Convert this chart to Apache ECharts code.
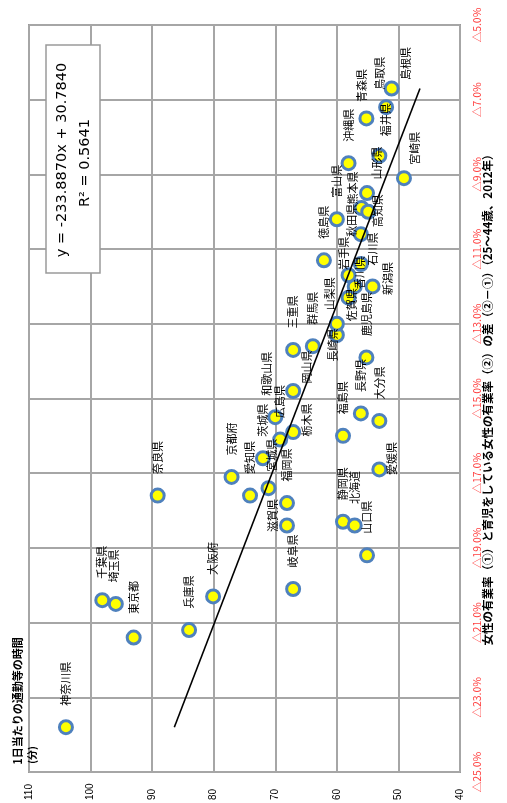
<!DOCTYPE html>
<html><head><meta charset="utf-8">
<script src="https://cdn.jsdelivr.net/npm/echarts@6/dist/echarts.min.js"></script>
<style>html,body{margin:0;padding:0;background:#fff}#c{width:507px;height:803px}</style>
</head><body><div id="c"></div>
<script>
// ---- data ----
const prefectures = ['神奈川県','千葉県','埼玉県','東京都','兵庫県','大阪府','奈良県','京都府','愛知県','宮城県','茨城県','広島県','栃木県','和歌山県','岡山県','福岡県','滋賀県','岐阜県','福島県','長野県','大分県','愛媛県','静岡県','北海道','山口県','鹿児島県','群馬県','長崎県','山梨県','佐賀県','香川県','新潟県','岩手県','石川県','徳島県','秋田県','富山県','熊本県','高知県','山形県','宮崎県','沖縄県','福井県','青森県','鳥取県','島根県','三重県'];
const commuteMinutes = [104.0, 98.1, 95.9, 93.0, 84.0, 80.1, 89.1, 77.1, 74.1, 71.1, 72.0, 69.2, 67.1, 70.0, 67.1, 68.1, 68.1, 67.1, 59.0, 56.1, 53.1, 53.1, 59.0, 57.1, 55.1, 55.2, 63.9, 60.0, 60.0, 58.1, 57.1, 54.2, 58.1, 56.1, 62.1, 56.1, 60.0, 56.0, 54.9, 55.1, 49.1, 58.1, 53.1, 55.2, 52.0, 51.1, 67.1];
const rateGap = [-23.8, -20.4, -20.5, -21.4, -21.2, -20.3, -17.6, -17.1, -17.6, -17.4, -16.6, -16.1, -15.9, -15.5, -14.8, -17.8, -18.4, -20.1, -16.0, -15.4, -15.6, -16.9, -18.3, -18.4, -19.2, -13.9, -13.6, -13.3, -13.0, -12.3, -12.0, -12.0, -11.7, -11.4, -11.3, -10.6, -10.2, -9.9, -10.0, -9.5, -9.1, -8.7, -8.5, -7.5, -7.2, -6.7, -13.7];
const trendCommute = [86.4, 46.5];
const trendGap = [-23.8, -6.7];
const equationText = 'y = -233.8870x + 30.7840';
const r2Text = 'R² = 0.5641';
const xTitle = '1日当たりの通勤等の時間';
const xUnit = '(分)';
const yTitle = '女性の有業率（①）と育児をしている女性の有業率（②）の差（②－①）（25～44歳、2012年）';

// ---- label placement tweaks (screen px: right, down) ----
const labelShift = {
  '宮城県':[3,5],'栃木県':[14,26],'和歌山県':[-8,0],'岡山県':[14,14],'滋賀県':[-14,28],'愛媛県':[12,27],
  '長崎県':[-4,48],'山梨県':[-7,8],'佐賀県':[3,45],'香川県':[5,24],'新潟県':[15,30],'岩手県':[-5,16],
  '石川県':[12,23],'秋田県':[-9,24],'熊本県':[-9,18],'高知県':[10,37],'山形県':[10,8],'宮崎県':[11,8],
  '福井県':[6,2],'青森県':[-5,5],'鳥取県':[-6,4],'島根県':[14,13],'埼玉県':[-2,0],'東京都':[0,-2]
};

const JP = '"Noto Sans CJK JP", sans-serif';
const points = prefectures.map((n, i) => ({ name: n, value: [commuteMinutes[i], rateGap[i]] }));
const trend = trendCommute.map((c, i) => [c, trendGap[i]]);

const chart = echarts.init(document.getElementById('c'));
chart.setOption({
  animation: false,
  grid: { left: 29, right: 47, top: 25, bottom: 30, show: true, borderColor: '#9a9a9a', borderWidth: 2 },
  xAxis: {
    type: 'value', min: 40, max: 110, interval: 10, inverse: true,
    axisLine: { show: false }, axisTick: { show: false },
    splitLine: { lineStyle: { color: '#a6a6a6', width: 2 } },
    axisLabel: { rotate: 90, margin: 28, align: 'left', verticalAlign: 'middle', fontSize: 10, color: '#000', fontFamily: 'Liberation Sans' }
  },
  yAxis: {
    type: 'value', min: -25, max: -5, interval: 2, position: 'right',
    axisLine: { show: false }, axisTick: { show: false },
    splitLine: { lineStyle: { color: '#a6a6a6', width: 2 } },
    axisLabel: { rotate: 90, margin: 12, fontSize: 10.5, color: '#ff4040', fontFamily: JP,
      formatter: v => '△' + Math.abs(v).toFixed(1) + '%' }
  },
  series: [
    {
      type: 'scatter', data: points, symbol: 'circle', symbolSize: 13, z: 2,
      itemStyle: { color: '#ffff00', borderColor: '#4f81bd', borderWidth: 3, opacity: 1 },
      label: { show: true, formatter: p => p.name, position: 'top', distance: 13.5, rotate: 90,
        align: 'left', verticalAlign: 'middle', fontSize: 11, fontFamily: JP, color: '#000' },
      labelLayout: function (params) {
        const s = labelShift[prefectures[params.dataIndex]] || [0, 0];
        // label frame is rotated 90deg: dx runs up the screen, dy runs right
        return { dx: -s[1], dy: s[0], hideOverlap: false };
      },
      emphasis: { disabled: true }
    },
    {
      type: 'line', data: trend, showSymbol: false, symbol: 'none', z: 3,
      lineStyle: { color: '#000', width: 1.6 }, silent: true
    }
  ],
  graphic: [
    { type: 'rect', shape: { x: 46, y: 45, width: 54, height: 228 }, style: { fill: '#fff', stroke: '#9a9a9a', lineWidth: 1.5 }, z: 10 },
    { type: 'text', x: 62, y: 160, rotation: Math.PI / 2, z: 11,
      style: { text: equationText, font: '14.5px "DejaVu Sans"', fill: '#000', align: 'center', verticalAlign: 'middle', textAlign: 'center', textVerticalAlign: 'middle' } },
    { type: 'text', x: 85, y: 163, rotation: Math.PI / 2, z: 11,
      style: { text: r2Text, font: '14.5px "DejaVu Sans"', fill: '#000', align: 'center', verticalAlign: 'middle', textAlign: 'center', textVerticalAlign: 'middle' } },
    { type: 'text', x: 18, y: 701, rotation: Math.PI / 2, z: 11,
      style: { text: xTitle, font: 'bold 11px ' + JP, fill: '#000', align: 'center', verticalAlign: 'middle', textAlign: 'center', textVerticalAlign: 'middle' } },
    { type: 'text', x: 32, y: 755, rotation: Math.PI / 2, z: 11,
      style: { text: xUnit, font: 'bold 10px ' + JP, fill: '#000', align: 'center', verticalAlign: 'middle', textAlign: 'center', textVerticalAlign: 'middle' } },
    { type: 'text', x: 488, y: 397, rotation: Math.PI / 2, z: 11,
      style: { text: yTitle, font: 'bold 11.5px ' + JP, fill: '#000', align: 'center', verticalAlign: 'middle', textAlign: 'center', textVerticalAlign: 'middle' } }
  ]
});
</script></body></html>
